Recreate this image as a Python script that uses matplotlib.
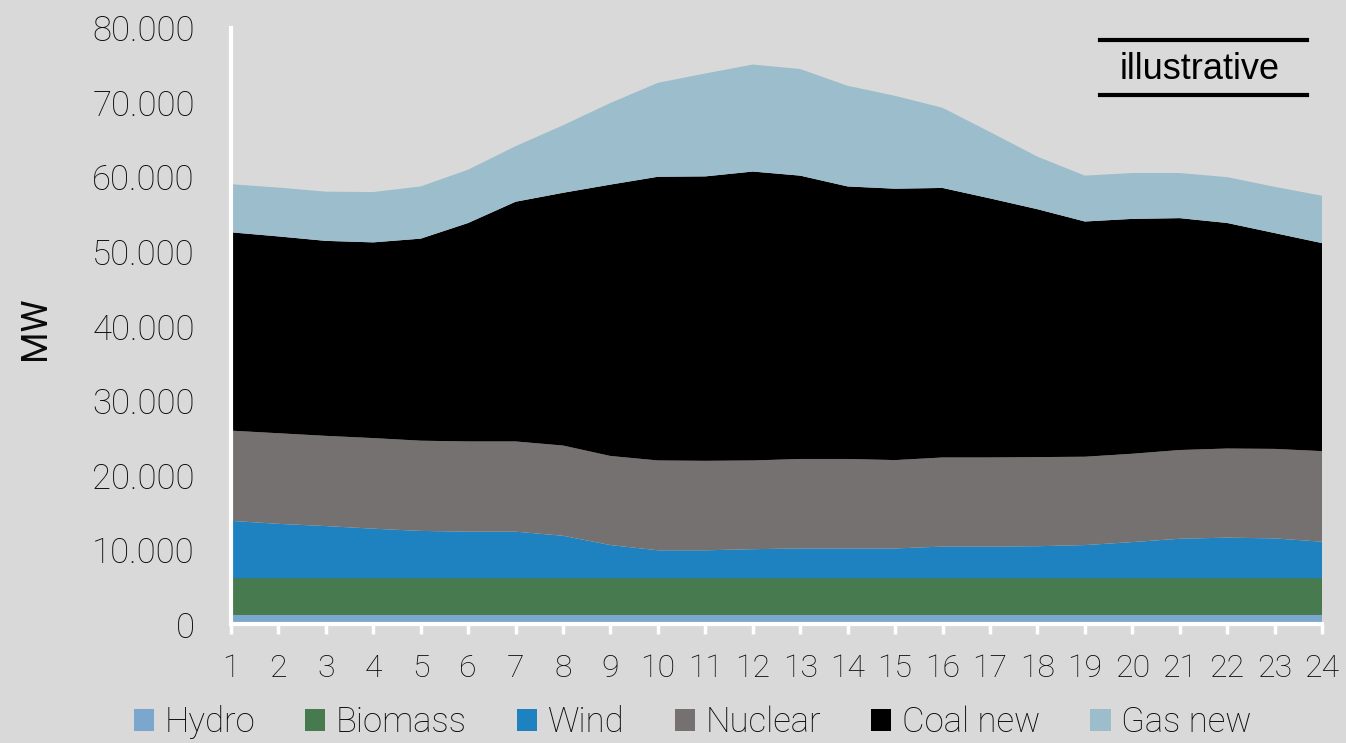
import matplotlib
matplotlib.use("Agg")
import matplotlib.pyplot as plt
from matplotlib.lines import Line2D
from matplotlib.ticker import FuncFormatter

# Hourly generation by source (MW)
hours = list(range(1, 25))
hydro = [1300] * 24
biomass = [4900] * 24
wind = [7700, 7300, 7000, 6650, 6350, 6250, 6250, 5700, 4450, 3750, 3750, 3900,
        4000, 4000, 4000, 4250, 4250, 4300, 4450, 4850, 5300, 5450, 5350, 4900]
nuclear = [12100, 12150, 12100, 12150, 12100, 12100, 12100, 12100, 11950, 12050, 12000, 11900,
           12000, 12000, 11850, 11950, 11950, 11950, 11850, 11850, 11900, 11950, 12000, 12150]
coal_new = [26600, 26400, 26150, 26250, 27100, 29300, 32150, 33900, 36400, 38050, 38150, 38750,
            38000, 36550, 36400, 36150, 34750, 33250, 31550, 31500, 31100, 30250, 28950, 27900]
gas_new = [6450, 6550, 6600, 6750, 7000, 7150, 7450, 9050, 10950, 12600, 13800, 14350,
           14300, 13500, 12450, 10750, 8900, 7050, 6150, 6150, 6050, 6150, 6200, 6350]

labels = ["Hydro", "Biomass", "Wind", "Nuclear", "Coal new", "Gas new"]
colors = ["#7aa7cb", "#477a4f", "#1f82c0", "#767171", "#000000", "#9bbdcc"]
y_ticks = [0, 10000, 20000, 30000, 40000, 50000, 60000, 70000, 80000]

bg = "#d9d9d9"
txt = "#0a0a0a"
plt.rcParams["font.family"] = ["Roboto", "DejaVu Sans"]
plt.rcParams["font.weight"] = "light"

fig = plt.figure(figsize=(13.46, 7.43), dpi=100, facecolor=bg)
ax = fig.add_axes([0.1716, 0.1595, 0.8106, 0.8028])
ax.set_facecolor(bg)

polys = ax.stackplot(hours, hydro, biomass, wind, nuclear, coal_new, gas_new,
                     colors=colors, labels=labels, linewidth=0)

ax.set_xlim(1, 24)
ax.set_ylim(0, 80000)
ax.set_xticks(hours)
ax.set_yticks(y_ticks)
ax.yaxis.set_major_formatter(FuncFormatter(lambda v, p: f"{int(v):,}".replace(",", ".")))

for s in ["top", "right"]:
    ax.spines[s].set_visible(False)
for s in ["left", "bottom"]:
    ax.spines[s].set_color("white")
    ax.spines[s].set_linewidth(3)
    ax.spines[s].set_zorder(5)

ax.tick_params(axis="x", colors="white", direction="out", length=7, width=2.5,
               labelcolor=txt, labelsize=23, pad=14)
ax.tick_params(axis="y", length=0, labelcolor=txt, labelsize=25, pad=26)

ax.set_ylabel("MW", fontsize=26, color=txt, fontweight="normal")
ax.yaxis.set_label_coords(-0.163, 0.497)

leg = fig.legend(handles=polys, labels=labels, loc="center", bbox_to_anchor=(0.5145, 0.028),
                 ncol=6, frameon=False, fontsize=25, handlelength=0.58, handleheight=0.58,
                 handletextpad=0.3, columnspacing=1.45, borderaxespad=0)
for t in leg.get_texts():
    t.set_color(txt)

# "illustrative" stamp framed by two rules
fig.text(0.8915, 0.906, "illustrative", family="Liberation Sans", fontweight="normal",
         fontsize=26, ha="center", va="center", color="black")
fig.add_artist(Line2D([0.817, 0.971], [0.946, 0.946], color="black", linewidth=3,
                      transform=fig.transFigure))
fig.add_artist(Line2D([0.817, 0.971], [0.872, 0.872], color="black", linewidth=3,
                      transform=fig.transFigure))

fig.savefig("out.png", dpi=100, facecolor=bg)
